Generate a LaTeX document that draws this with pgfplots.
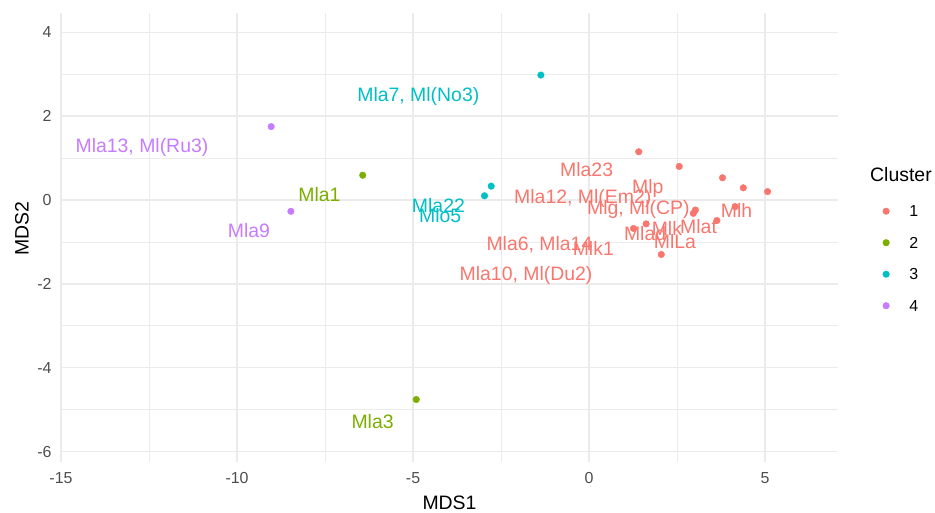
\documentclass[border=0pt]{standalone}
\usepackage{fontspec}
\setmainfont{Liberation Sans}
\usepackage{pgfplots}
\pgfplotsset{compat=1.18}
\definecolor{cA}{HTML}{F8766D}
\definecolor{cB}{HTML}{7CAE00}
\definecolor{cC}{HTML}{00BFC4}
\definecolor{cD}{HTML}{C77CFF}
\definecolor{gridc}{HTML}{EBEBEB}
\definecolor{tickc}{HTML}{4D4D4D}
\newcommand{\lbl}{\fontsize{19.5}{23}\selectfont}
\newcommand{\tck}{\fontsize{16}{19}\selectfont}
\begin{document}
\begin{tikzpicture}
\path[use as bounding box] (-61bp,-51bp) rectangle (874bp,462bp);
\begin{axis}[
  scale only axis, width=777bp, height=449bp,
  xmin=-15, xmax=7.07, ymin=-6.25, ymax=4.46,
  clip=false,
  axis line style={draw=none},
  major tick length=0pt, minor tick length=0pt,
  tick style={draw=none},
  xtick={-15,-10,-5,0,5}, ytick={-6,-4,-2,0,2,4},
  minor xtick={-12.5,-7.5,-2.5,2.5}, minor ytick={-5,-3,-1,1,3},
  grid=both,
  major grid style={color=gridc, line width=1.5bp},
  minor grid style={color=gridc, line width=0.75bp},
  /pgf/number format/assume math mode=true,
  tick label style={font=\tck, text=tickc},
  xticklabel style={yshift=-7bp},
  yticklabel style={xshift=-6bp},
  xlabel={MDS1}, ylabel={MDS2},
  label style={font=\fontsize{19.5}{23}\selectfont},
  xlabel style={at={(axis description cs:0.5,0)}, anchor=center, yshift=-40.5bp},
  ylabel style={at={(axis description cs:0,0.52)}, anchor=center, yshift=39bp},
  legend style={at={(axis description cs:1.0577,0.5713)}, anchor=north west,
    draw=none, fill=none, inner sep=0pt, outer sep=0pt, row sep=20bp, column sep=20bp,
    nodes={inner sep=0pt, text height=11.5bp, text depth=0pt, font=\tck}},
  legend cell align=left,
  legend image code/.code={\draw[#1] plot coordinates {(0bp,0bp)};},
]
\addplot[only marks, mark=*, mark size=3.3bp, color=cA] coordinates {
(1.41,1.15) (2.56,0.80) (3.79,0.53) (4.38,0.29) (5.07,0.20) (4.15,-0.16)
(3.02,-0.24) (2.96,-0.32) (3.63,-0.49) (1.62,-0.57) (1.26,-0.68) (2.05,-1.30)};
\addlegendentry{1}
\addplot[only marks, mark=*, mark size=3.3bp, color=cB] coordinates {
(-6.43,0.59) (-4.91,-4.76)};
\addlegendentry{2}
\addplot[only marks, mark=*, mark size=3.3bp, color=cC] coordinates {
(-1.37,2.98) (-2.78,0.33) (-2.97,0.10)};
\addlegendentry{3}
\addplot[only marks, mark=*, mark size=3.3bp, color=cD] coordinates {
(-9.03,1.75) (-8.47,-0.27)};
\addlegendentry{4}
\begin{scope}[every node/.style={font=\lbl, inner sep=0pt, text height=14bp, text depth=0pt, anchor=center}]
\node[text=cA] at (axis cs:-0.07,0.72) {Mla23};
\node[text=cA] at (axis cs:1.67,0.33) {Mlp};
\node[text=cA] at (axis cs:-0.18,0.08) {Mla12, Ml(Em2)};
\node[text=cA] at (axis cs:1.40,-0.18) {Mlg, Ml(CP)};
\node[text=cA] at (axis cs:4.19,-0.24) {Mlh};
\node[text=cA] at (axis cs:2.21,-0.68) {Mlk};
\node[text=cA] at (axis cs:3.11,-0.64) {Mlat};
\node[text=cA] at (axis cs:1.59,-0.81) {Mlad};
\node[text=cA] at (axis cs:2.44,-0.98) {MlLa};
\node[text=cA] at (axis cs:-1.41,-1.03) {Mla6, Mla14};
\node[text=cA] at (axis cs:0.12,-1.15) {Mlk1};
\node[text=cA] at (axis cs:-1.79,-1.75) {Mla10, Ml(Du2)};
\node[text=cB] at (axis cs:-7.66,0.14) {Mla1};
\node[text=cB] at (axis cs:-6.15,-5.29) {Mla3};
\node[text=cC] at (axis cs:-4.85,2.51) {Mla7, Ml(No3)};
\node[text=cC] at (axis cs:-4.28,-0.12) {Mla22};
\node[text=cC] at (axis cs:-4.23,-0.36) {Mlo5};
\node[text=cD] at (axis cs:-12.70,1.31) {Mla13, Ml(Ru3)};
\node[text=cD] at (axis cs:-9.66,-0.72) {Mla9};
\node[text=black, anchor=west, text height=14bp] at (axis description cs:1.0412,0.6414) {Cluster};
\end{scope}
\end{axis}
\end{tikzpicture}
\end{document}
